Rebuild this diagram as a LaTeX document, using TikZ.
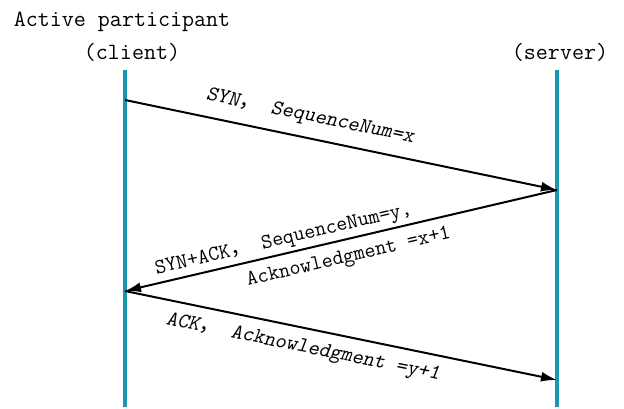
\documentclass[tikz,border=0pt]{standalone}
\usepackage{fontspec}
\newfontfamily\cjk{Noto Sans CJK SC}
\usetikzlibrary{arrows.meta}
\definecolor{lifeteal}{RGB}{24,152,176}
\newcommand{\cc}{{\cjk ，}}
\tikzset{
  lifeline/.style={draw=lifeteal, line width=2.6pt},
  msg/.style={draw=black, line width=1.5pt, -{Latex[length=12pt,width=7.5pt]}},
  ttl/.style={font=\ttfamily\fontsize{17.5}{20}\selectfont, inner sep=0pt},
  lbl/.style={font=\ttfamily\fontsize{16}{24}\selectfont, inner sep=0pt},
  lbls/.style={font=\ttfamily\slshape\fontsize{16}{19}\selectfont, inner sep=0pt}
}
\begin{document}
\begin{tikzpicture}[x=0.75pt,y=-0.75pt]
\useasboundingbox (0,0) rectangle (624,409);
% lifeline coordinates
\coordinate (ctop) at (125,70);
\coordinate (cbot) at (125,407);
\coordinate (stop) at (557,70);
\coordinate (sbot) at (557,407);
\coordinate (c1) at (125,100);
\coordinate (s1) at (557,190);
\coordinate (c2) at (125,291);
\coordinate (s2) at (557,380);
% titles
\node[ttl] (act) at (122,22) {Active participant};
\node[ttl] (cli) at (132,52) {(client)};
\node[ttl] (srv) at (560,52) {(server)};
% lifelines
\draw[lifeline] (ctop) -- (cbot);
\draw[lifeline] (stop) -- (sbot);
% messages
\draw[msg] (c1) -- (s1);
\draw[msg] (s1) -- (c2);
\draw[msg] (c2) -- (s2);
% labels
\node[lbls, rotate=-11.8] (l1) at (310,117) {SYN\cc{} SequenceNum=x};
\node[lbl, rotate=13.2, align=left] (l2) at (303,252)
  {SYN+ACK\cc{} SequenceNum=y,\\\hspace*{65pt}Acknowledgment =x+1};
\node[lbls, rotate=-11.6] (l3) at (303,348) {ACK\cc{} Acknowledgment =y+1};
\end{tikzpicture}
\end{document}
